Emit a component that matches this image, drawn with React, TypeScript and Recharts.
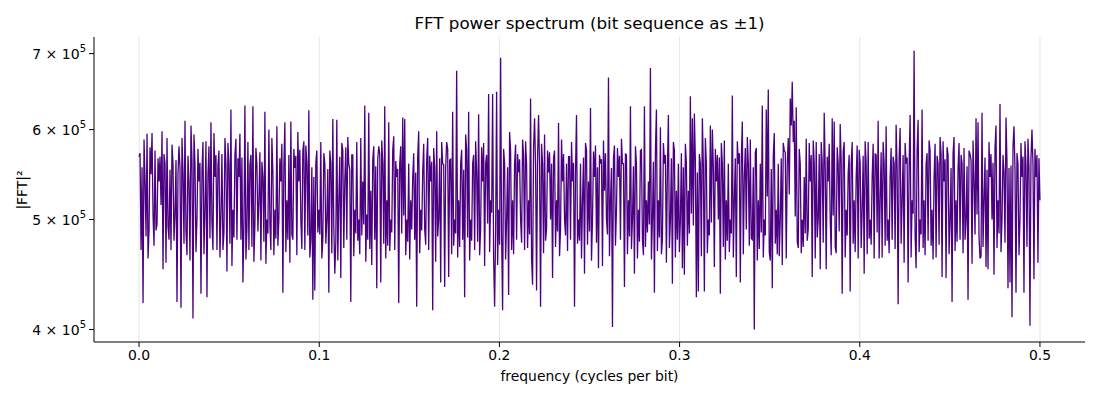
import { LineChart, Line, XAxis, YAxis, ReferenceLine } from "recharts";

// |FFT|^2, in units of 1000 (every second bin)
const powerK = [
  568, 470, 422, 540, 595, 490, 548, 505, 575, 495,
  540, 515, 452, 560, 590, 480, 470, 560, 505, 423,
  580, 418, 550, 611, 465, 540, 605, 409, 560, 500,
  540, 430, 585, 510, 427, 580, 609, 470, 545, 470,
  575, 505, 470, 590, 450, 560, 625, 510, 570, 480,
  545, 480, 440, 630, 490, 470, 570, 629, 495, 560,
  520, 460, 545, 622, 500, 600, 470, 550, 510, 604,
  500, 540, 431, 609, 520, 570, 610, 480, 555, 465,
  540, 500, 575, 470, 560, 624, 480, 425, 433, 575,
  510, 585, 480, 560, 500, 431, 560, 613, 448, 612,
  520, 444, 575, 540, 480, 560, 423, 570, 510, 585,
  500, 590, 540, 630, 505, 621, 530, 565, 480, 435,
  580, 440, 560, 629, 520, 609, 500, 575, 470, 545,
  422, 580, 615, 613, 500, 560, 520, 545, 480, 419,
  598, 510, 550, 490, 565, 470, 540, 416, 555, 598,
  500, 440, 560, 436, 585, 445, 565, 622, 500, 676,
  520, 560, 480, 427, 575, 622, 500, 560, 470, 550,
  619, 490, 540, 455, 570, 645, 520, 645, 419, 648,
  510, 694, 416, 560, 500, 429, 575, 520, 560, 480,
  550, 500, 588, 470, 560, 520, 639, 438, 614, 433,
  618, 419, 560, 594, 490, 550, 500, 444, 575, 520,
  608, 490, 540, 500, 560, 568, 480, 540, 419, 618,
  500, 560, 520, 448, 575, 540, 627, 500, 545, 477,
  453, 560, 455, 530, 500, 667, 520, 402, 581, 510,
  545, 480, 560, 436, 570, 520, 629, 500, 448, 560,
  510, 575, 480, 629, 520, 540, 680, 500, 431, 625,
  520, 603, 480, 560, 458, 618, 500, 439, 575, 530,
  560, 500, 453, 447, 560, 530, 642, 614, 620, 427,
  432, 560, 614, 432, 560, 500, 605, 600, 454, 540,
  500, 430, 560, 587, 520, 560, 500, 643, 520, 445,
  560, 440, 610, 545, 490, 560, 588, 480, 400, 578,
  520, 560, 630, 500, 625, 651, 460, 435, 596, 510,
  560, 500, 456, 575, 462, 590, 639, 661, 611, 628,
  472, 560, 500, 545, 589, 490, 540, 445, 560, 585,
  500, 452, 560, 621, 452, 540, 500, 614, 610, 467,
  560, 607, 430, 585, 510, 550, 432, 585, 520, 545,
  462, 560, 510, 448, 560, 585, 500, 545, 462, 570,
  611, 520, 463, 560, 604, 500, 545, 480, 560, 606,
  421, 602, 520, 458, 560, 440, 618, 520, 704, 453,
  612, 500, 625, 520, 560, 479, 575, 510, 545, 463,
  560, 591, 445, 540, 444, 570, 500, 423, 591, 520,
  555, 480, 560, 578, 500, 425, 571, 457, 540, 614,
  609, 462, 621, 520, 454, 452, 545, 500, 447, 605,
  520, 632, 500, 550, 615, 435, 440, 410, 604, 431,
  560, 500, 545, 431, 560, 589, 403, 600, 443, 545,
  458, 520,
];

// the bins in between, same units
const powerMidK = [
  572, 556, 588, 483, 462, 579, 596, 474, 489, 566,
  568, 598, 571, 458, 493, 553, 582, 479, 564, 549,
  555, 590, 476, 488, 569, 460, 563, 594, 468, 577,
  561, 552, 466, 586, 548, 481, 497, 596, 570, 558,
  463, 571, 487, 559, 584, 476, 455, 482, 589, 566,
  595, 567, 494, 461, 585, 558, 473, 459, 578, 488,
  573, 562, 478, 457, 486, 496, 590, 465, 481, 474,
  566, 583, 557, 468, 480, 458, 485, 577, 569, 597,
  576, 471, 586, 581, 484, 463, 556, 545, 561, 487,
  485, 462, 572, 476, 554, 575, 467, 493, 478, 460,
  568, 584, 472, 579, 591, 553, 570, 464, 486, 479,
  466, 484, 495, 459, 480, 471, 456, 580, 557, 565,
  571, 587, 476, 462, 474, 469, 487, 592, 563, 554,
  560, 486, 504, 465, 478, 461, 490, 572, 550, 568,
  467, 489, 583, 475, 590, 569, 562, 578, 459, 483,
  566, 585, 559, 556, 577, 564, 466, 474, 486, 463,
  473, 576, 553, 594, 482, 460, 479, 570, 586, 478,
  465, 579, 584, 560, 496, 468, 507, 463, 487, 456,
  475, 483, 577, 461, 556, 597, 470, 466, 582, 571,
  565, 477, 570, 586, 472, 485, 462, 579, 557, 568,
  558, 583, 467, 479, 575, 573, 560, 566, 473, 488,
  464, 588, 571, 484, 469, 568, 585, 561, 553, 476,
  479, 462, 567, 584, 475, 488, 460, 574, 581, 556,
  570, 565, 587, 572, 485, 464, 555, 566, 474, 578,
  569, 589, 560, 571, 466, 483, 471, 557, 580, 462,
  478, 576, 465, 473, 487, 495, 461, 562, 575, 469,
  482, 466, 584, 570, 554, 472, 566, 585, 463, 480,
  468, 572, 556, 583, 474, 486, 506, 494, 563, 550,
  571, 464, 557, 590, 467, 484, 497, 555, 577, 570,
  567, 584, 473, 461, 479, 468, 486, 463, 566, 586,
  572, 565, 466, 578, 591, 474, 481, 556, 573, 460,
  471, 487, 463, 484, 524, 468, 554, 569, 476, 466,
  464, 566, 584, 573, 560, 526, 605, 585, 503, 478,
  577, 467, 473, 486, 479, 584, 570, 587, 462, 482,
  571, 585, 477, 556, 568, 583, 465, 504, 473, 579,
  488, 561, 574, 463, 484, 570, 560, 476, 468, 581,
  576, 472, 569, 586, 466, 481, 475, 583, 571, 487,
  462, 573, 585, 474, 479, 467, 578, 568, 471, 556,
  566, 476, 570, 584, 567, 557, 463, 506, 484, 575,
  468, 485, 472, 465, 572, 587, 474, 461, 583, 569,
  475, 571, 586, 565, 579, 466, 555, 572, 469, 478,
  584, 570, 467, 480, 557, 575, 564, 587, 485, 505,
  483, 464, 473, 567, 553, 585, 571, 561, 578, 472,
  486, 468, 570, 477, 562, 555, 558, 579, 554, 572,
  465, 584, 568, 586, 473, 556, 566, 560, 577, 570,
  566,
];

const xTicks = [0, 0.1, 0.2, 0.3, 0.4, 0.5];
const yTicks = [400000, 500000, 600000, 700000];

const spectrum = powerK.flatMap((v, i) => (i < powerMidK.length ? [v, powerMidK[i]] : [v]));
const data = spectrum.map((v, i) => ({
  freq: (i * 0.5) / (spectrum.length - 1),
  power: v * 1000,
}));

const font = "DejaVu Sans, sans-serif";

const YTick = ({ x, y, payload }: any) => (
  <text x={x} y={y} dy={5} textAnchor="end" fontSize={14} fill="#000" fontFamily={font}>
    {payload.value / 100000}
    {" \u00d7 10"}
    <tspan dy={-7} fontSize={10}>
      5
    </tspan>
  </text>
);

export default function App() {
  return (
    <div style={{ position: "absolute", left: 0, top: 0, width: 1100, height: 400, background: "#fff", fontFamily: font }}>
      <div style={{ position: "absolute", left: 94, width: 991, top: 13, textAlign: "center", fontSize: 16.7 }}>
        FFT power spectrum (bit sequence as ±1)
      </div>
      <div style={{ position: "absolute", left: 94, width: 991, top: 368, textAlign: "center", fontSize: 13.9 }}>
        frequency (cycles per bit)
      </div>
      <div
        style={{
          position: "absolute",
          left: 22,
          top: 190,
          fontSize: 13.9,
          transform: "translate(-50%, -50%) rotate(-90deg)",
          whiteSpace: "nowrap",
        }}
      >
        |FFT|²
      </div>
      <LineChart width={1100} height={400} data={data} margin={{ top: 37, right: 15, bottom: 13, left: 0 }}>
        <XAxis
          dataKey="freq"
          type="number"
          domain={[-0.025, 0.525]}
          ticks={xTicks}
          tickFormatter={(v: number) => v.toFixed(1)}
          height={45}
          tickSize={5}
          tickMargin={3}
          stroke="#000"
          tick={{ fill: "#000", fontSize: 13.9, fontFamily: font }}
          allowDataOverflow
        />
        <YAxis
          dataKey="power"
          scale="log"
          domain={[390000, 724000]}
          ticks={yTicks}
          width={94}
          tickSize={5}
          tickMargin={3}
          stroke="#000"
          tick={<YTick />}
          allowDataOverflow
        />
        {xTicks.map((t) => (
          <ReferenceLine key={t} x={t} stroke="#e6e6e6" strokeWidth={1} />
        ))}
        <Line
          type="linear"
          dataKey="power"
          stroke="#4b0082"
          strokeWidth={1.3}
          dot={false}
          isAnimationActive={false}
        />
      </LineChart>
    </div>
  );
}
